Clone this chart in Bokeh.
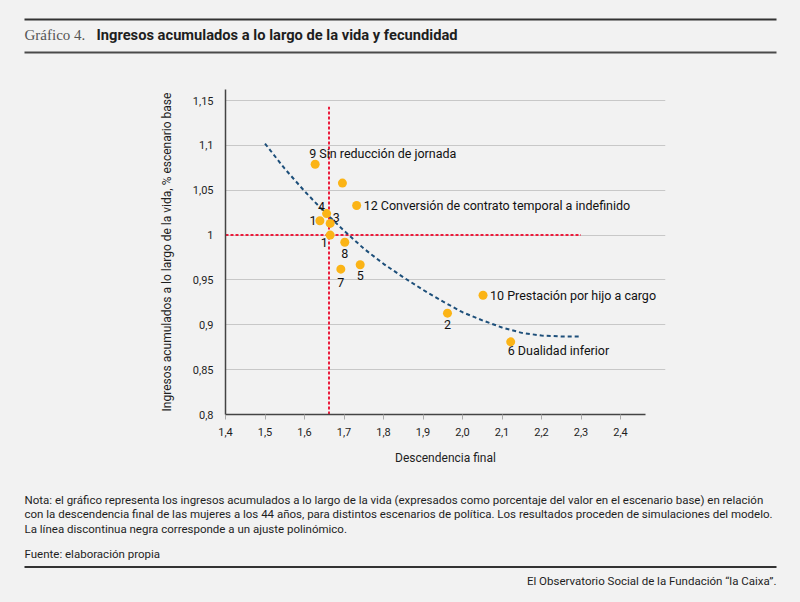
from bokeh.plotting import figure
from bokeh.layouts import column
from bokeh.models import FixedTicker, ColumnDataSource, Range1d
from bokeh.core.properties import value
from bokeh.embed import file_html
from bokeh.resources import INLINE

# ---- data ----
desc = [1.627, 1.696, 1.732, 1.656, 1.639, 1.665, 1.665, 1.702, 1.741, 1.692, 2.052, 1.962, 2.122]
ingresos = [1.079, 1.058, 1.033, 1.024, 1.016, 1.013, 1.000, 0.992, 0.967, 0.962, 0.933, 0.913, 0.881]
etiquetas = ["9 Sin reducción de jornada", "", "12 Conversión de contrato temporal a indefinido",
             "4", "1", "3", "1", "8", "5", "7", "10 Prestación por hijo a cargo", "2",
             "6 Dualidad inferior"]

ajuste_x = [1.50, 1.55, 1.60, 1.65, 1.70, 1.75, 1.80, 1.85, 1.90, 1.95, 2.00, 2.05, 2.10, 2.15, 2.20, 2.25, 2.30]
ajuste_y = [1.102, 1.074, 1.049, 1.026, 1.005, 0.985, 0.968, 0.953, 0.939, 0.926, 0.914, 0.905, 0.897, 0.891, 0.888, 0.887, 0.887]

base_desc = 1.662
base_ing = 1.0
base_desc_span = [0.8, 1.143]
base_ing_span = [1.4, 2.3]

x_ticks = [1.4, 1.5, 1.6, 1.7, 1.8, 1.9, 2.0, 2.1, 2.2, 2.3, 2.4]
x_tick_labels = ["1,4", "1,5", "1,6", "1,7", "1,8", "1,9", "2,0", "2,1", "2,2", "2,3", "2,4"]
y_ticks = [0.8, 0.85, 0.9, 0.95, 1.0, 1.05, 1.1, 1.15]
y_tick_labels = ["0,8", "0,85", "0,9", "0,95", "1", "1,05", "1,1", "1,15"]

titulo_num = "Gráfico 4."
titulo = "Ingresos acumulados a lo largo de la vida y fecundidad"
eje_x = "Descendencia final"
eje_y = "Ingresos acumulados a lo largo de la vida, % escenario base"
nota = ["Nota: el gráfico representa los ingresos acumulados a lo largo de la vida (expresados como porcentaje del valor en el escenario base) en relación",
        "con la descendencia final de las mujeres a los 44 años, para distintos escenarios de política. Los resultados proceden de simulaciones del modelo.",
        "La línea discontinua negra corresponde a un ajuste polinómico."]
fuente = "Fuente: elaboración propia"
pie = "El Observatorio Social de la Fundación “la Caixa”."

# ---- styles ----
lab_dx = [-6, 0, 7, -5, -7, 6, -6, 0, 0, 0, 7, 0, -3]
lab_dy = [-11, 0, 0, -7, 0, -6, 7, 11, 11, 13, 0, 11, 9]
lab_align = ["left", "left", "left", "center", "center", "center", "center", "center",
             "center", "center", "left", "center", "left"]

BG = "#f2f2f2"
FONT = "Roboto"
TXT = "#1e1e1e"
W = 800
H_TOP, H_MID, H_BOT = 56, 428, 118
PX_X, PX_Y = 395.0, 897.0          # pixels per data unit
FL, FR, FT, FB = 225, 665, 33, 358  # chart frame edges (px, inside the middle figure)


def blank(height, y0):
    f = figure(width=W, height=height, output_backend="svg", toolbar_location=None,
               x_range=Range1d(0, W), y_range=Range1d(y0 + height, y0),
               x_axis_type=None, y_axis_type=None, min_border=0, frame_align=False)
    f.background_fill_color = BG
    f.border_fill_color = BG
    f.outline_line_color = None
    f.grid.grid_line_color = None
    return f


# ---- header ----
h = blank(H_TOP, 0)
h.hbar(y=[19, 52], left=24, right=776, height=2.2, fill_color=["#333333", "#4a4a4a"],
       line_color=None)
h.text(x=[24], y=[34.5], text=[titulo_num], text_font=value("Liberation Serif"),
       text_font_size="15px", text_color="#555555", text_baseline="middle")
h.text(x=[96], y=[34.5], text=[titulo], text_font=value(FONT), text_font_style="bold",
       text_font_size="14.7px", text_color=TXT, text_baseline="middle")

# ---- chart ----
x0 = 1.4
y0 = 0.8
p = figure(width=W, height=H_MID, output_backend="svg", toolbar_location=None,
           x_range=Range1d(x0, x0 + (FR - FL) / PX_X),
           y_range=Range1d(y0, y0 + (FB - FT) / PX_Y),
           min_border_left=FL, min_border_right=W - FR,
           min_border_top=FT, min_border_bottom=H_MID - FB, frame_align=False)
p.background_fill_color = BG
p.border_fill_color = BG
p.outline_line_color = None

p.xaxis.ticker = FixedTicker(ticks=x_ticks)
p.yaxis.ticker = FixedTicker(ticks=y_ticks)
p.xaxis.major_label_overrides = dict(zip(x_ticks, x_tick_labels))
p.yaxis.major_label_overrides = dict(zip(y_ticks, y_tick_labels))
for ax in (p.xaxis, p.yaxis):
    ax.axis_line_color = "#444444"
    ax.axis_line_width = 1.5
    ax.minor_tick_line_color = None
    ax.major_label_text_font = FONT
    ax.major_label_text_font_size = "11px"
    ax.major_label_text_color = TXT
    ax.axis_label_text_font = FONT
    ax.axis_label_text_font_size = "12px"
    ax.axis_label_text_font_style = "normal"
    ax.axis_label_text_color = TXT
p.xaxis.bounds = (x0, x0 + 420 / PX_X)
p.xaxis.major_tick_line_color = "#aaaaaa"
p.xaxis.major_tick_out = 5
p.xaxis.major_tick_in = 0
p.xaxis.major_label_standoff = 8
p.xaxis.axis_label = eje_x
p.xaxis.axis_label_standoff = 12
p.yaxis.major_tick_line_color = None
p.yaxis.major_tick_out = 0
p.yaxis.major_tick_in = 0
p.yaxis.major_label_standoff = 12
p.yaxis.axis_label = eje_y
p.yaxis.axis_label_standoff = 16

p.xgrid.grid_line_color = None
p.ygrid.grid_line_color = "#c8c8c8"
p.ygrid.grid_line_width = 1
p.ygrid.bounds = (x0, x0 + 422 / PX_X)

RED = "#ec1c3c"
p.segment(x0=[base_desc], y0=[base_desc_span[0]], x1=[base_desc], y1=[base_desc_span[1]],
          line_color=RED, line_width=2, line_dash="3 2")
p.segment(x0=[base_ing_span[0]], y0=[base_ing], x1=[base_ing_span[1]], y1=[base_ing],
          line_color=RED, line_width=2, line_dash="3 2")

p.line(ajuste_x, ajuste_y, line_color="#1d4f7a", line_width=2, line_dash="4 3")

src = ColumnDataSource(dict(x=desc, y=ingresos, t=etiquetas, dx=lab_dx, dy=lab_dy, al=lab_align))
p.scatter("x", "y", source=src, size=9, fill_color="#fbb416", line_color=None)
p.text("x", "y", text="t", source=src, x_offset="dx", y_offset="dy", text_align="al",
       text_baseline="middle", text_font=value(FONT), text_font_size="12.5px", text_color="#111111")

# ---- footer ----
y_bot = H_TOP + H_MID
f = blank(H_BOT, y_bot)
f.hbar(y=[566.5], left=24, right=776, height=2.2, fill_color="#333333", line_color=None)
f.text(x=[24, 24, 24], y=[499, 513.5, 528], text=nota, text_font=value(FONT),
       text_font_size="11.5px", text_color=TXT, text_baseline="middle")
f.text(x=[24], y=[553], text=[fuente], text_font=value(FONT),
       text_font_size="11.5px", text_color=TXT, text_baseline="middle")
f.text(x=[776], y=[580], text=[pie], text_font=value(FONT), text_align="right",
       text_font_size="11.5px", text_color=TXT, text_baseline="middle")

layout = column(h, p, f, spacing=0, styles={"background-color": BG})
open("out.html", "w").write(file_html(layout, INLINE))
